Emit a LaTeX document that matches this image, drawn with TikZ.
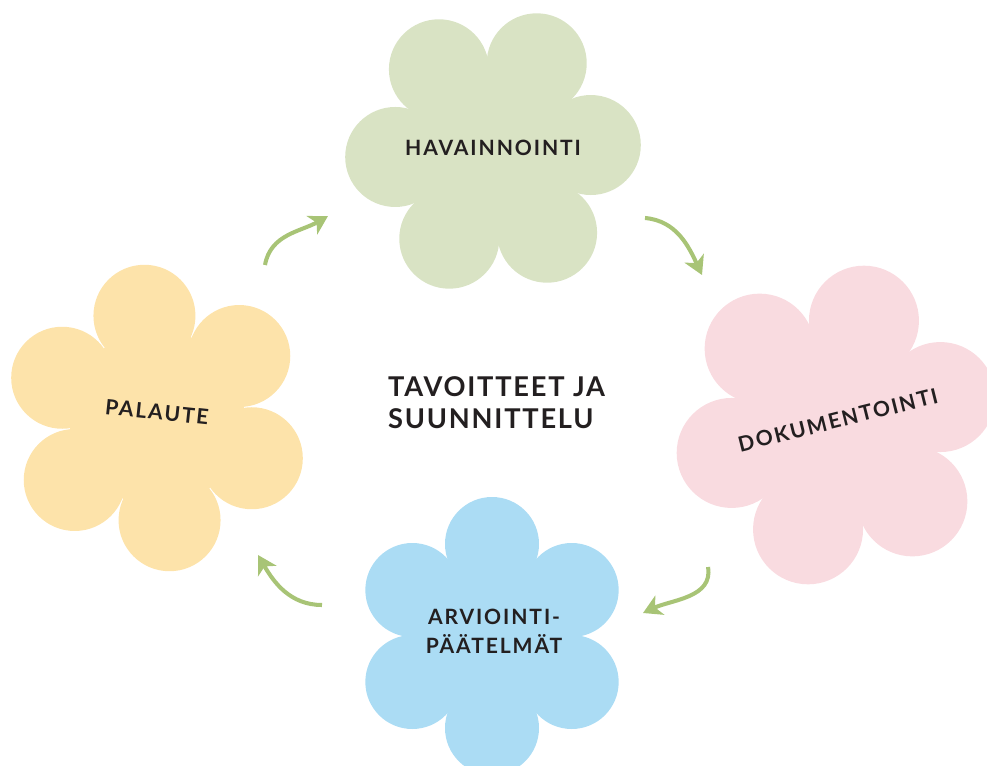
\documentclass[tikz,border=0pt]{standalone}
\usepackage{fontspec}
\setmainfont{Lato}
\usetikzlibrary{arrows.meta}
\definecolor{ink}{HTML}{231F20}
\definecolor{arrowgreen}{HTML}{A8C476}
\definecolor{havgreen}{HTML}{D9E3C4}
\definecolor{palyellow}{HTML}{FDE3AA}
\definecolor{dokpink}{HTML}{F9DBE0}
\definecolor{arvblue}{HTML}{ABDCF4}
\tikzset{
    flowertext/.style = {font = \bfseries\fontsize{12}{16.5}\selectfont\addfontfeatures{LetterSpace = 9}, text = ink, align = center},
    centertext/.style = {font = \bfseries\fontsize{15.5}{18.2}\selectfont\addfontfeatures{LetterSpace = 6.5}, text = ink, align = left},
    cyclearrow/.style = {draw = arrowgreen, line width = 2.3pt, -{Stealth[length = 10.5pt, width = 12pt, inset = 3pt]}}
}
\begin{document}
\begin{tikzpicture}[x = 0.02cm, y = 0.02cm]
            \useasboundingbox (0,0) rectangle (987,765);
            \clip (0,0) rectangle (987,765);
            % flowers: centre x / centre y / ring / petal radius / first petal angle / colour
            \foreach \cx/\cy/\rr/\pr/\st/\col in {493/614/98/50/3.5/havgreen, 836/340/108/55/15/dokpink, 492/129/92/47/30/arvblue, 157/347/103/51/37/palyellow} {
                \fill[\col] (\cx,\cy) circle[radius = 0.85*\rr];
                \foreach \k in {0, ..., 5} {
                    \fill[\col, shift = {(\cx,\cy)}] (\st+60*\k:\rr) circle[radius = \pr];
                }
            }
            \node[flowertext] (hav) at (493,617) {HAVAINNOINTI};
            \node[flowertext, rotate = 14] (dok) at (838,345) {DOKUMENTOINTI};
            \node[flowertext] (arv) at (494,134) {ARVIOINTI-\\PÄÄTELMÄT};
            \node[flowertext, rotate = -6] (pal) at (157,353) {PALAUTE};
            \node[centertext, anchor = west] (tav) at (382,362) {TAVOITTEET JA\\SUUNNITTELU};
            % arrows between the flowers
            \coordinate (a1) at (265,500);
            \coordinate (b1) at (328,549);
            \coordinate (a2) at (645,547);
            \coordinate (b2) at (702,490);
            \coordinate (a3) at (708,198);
            \coordinate (b3) at (643,152);
            \coordinate (a4) at (322,160);
            \coordinate (b4) at (258,210);
            \draw[cyclearrow] (a1) to[out = 80, in = 210] (b1);
            \draw[cyclearrow] (a2) to[out = -5, in = 115] (b2);
            \draw[cyclearrow] (a3) to[out = -80, in = 25] (b3);
            \draw[cyclearrow] (a4) to[out = 180, in = -60] (b4);
\end{tikzpicture}
\end{document}
